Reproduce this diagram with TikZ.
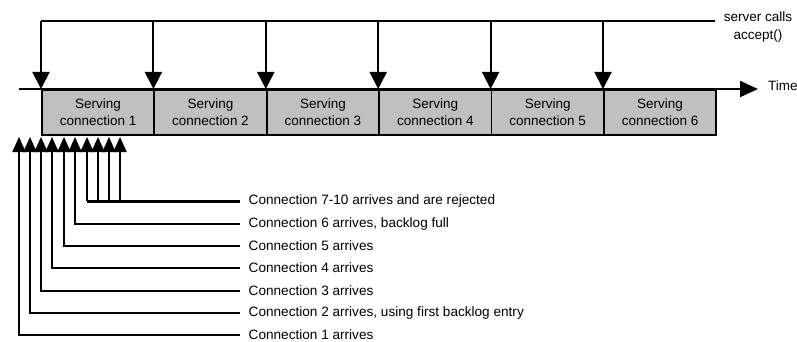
\documentclass[tikz,border=0pt]{standalone}
\usepackage{fontspec}
\setmainfont{Liberation Sans}
\usetikzlibrary{arrows.meta}
\definecolor{boxgray}{RGB}{192,192,192}
\tikzset{
  wire/.style={line width=2pt},
  servebox/.style={draw, line width=1.8pt, fill=boxgray, minimum width=112.4pt,
    minimum height=45pt, inner sep=0pt, align=center, font=\fontsize{13.5}{17}\selectfont},
  downtip/.style={wire, -{Triangle[width=17pt,length=17pt]}},
  uptip/.style={wire, -{Triangle[width=13pt,length=15pt]}},
  timetip/.style={wire, -{Triangle[width=16pt,length=18pt]}},
  lbl/.style={anchor=west, inner xsep=8.5pt, inner ysep=0pt, font=\fontsize{13.6}{16}\selectfont},
}
\begin{document}
\begin{tikzpicture}[x=1pt,y=-1pt]
\useasboundingbox (0,0) rectangle (797,342);

% the six serving periods along the time axis
\foreach \i in {1,...,6}{
  \node[servebox, anchor=north west] (b\i) at ({41+(\i-1)*112.4},89) {Serving\\connection \i};
}

% time axis
\coordinate (t0) at (19,89);
\coordinate (t1) at (758,89);
\draw[timetip] (t0) -- (t1);
\node[anchor=west, inner sep=0pt, font=\fontsize{13.5}{16}\selectfont] (time) at (768,86) {Time};

% accept() calls
\coordinate (top0) at (41,21);
\coordinate (top1) at (715,21);
\draw[wire] (top0) -- (top1);
\node[align=center, inner sep=0pt, font=\fontsize{13.5}{18}\selectfont] (srv) at (758,27) {server calls\\accept()};
\foreach \i in {1,...,6}{
  \draw[downtip] (b\i.north west |- top0) -- (b\i.north west);
}

% connection arrivals
\foreach \n/\x in {1/19,2/30,3/41,4/52,5/64,6/75,7/87,8/98,9/109,10/120}{
  \coordinate (a\n) at (\x,137);
}
\node[lbl] (l1) at (240,335) {Connection 1 arrives};
\node[lbl] (l2) at (240,313) {Connection 2 arrives, using first backlog entry};
\node[lbl] (l3) at (240,291) {Connection 3 arrives};
\node[lbl] (l4) at (240,268) {Connection 4 arrives};
\node[lbl] (l5) at (240,246) {Connection 5 arrives};
\node[lbl] (l6) at (240,224) {Connection 6 arrives, backlog full};
\node[lbl] (l7) at (240,201) {Connection 7-10 arrives and are rejected};

\foreach \n in {1,...,6}{
  \draw[uptip] (l\n.west) -| (a\n);
}
\draw[line width=3pt] (l7.west) -- (a7 |- l7.west);
\foreach \n in {7,...,10}{
  \draw[uptip] (a\n |- l7.west) -- (a\n);
}
\end{tikzpicture}
\end{document}
